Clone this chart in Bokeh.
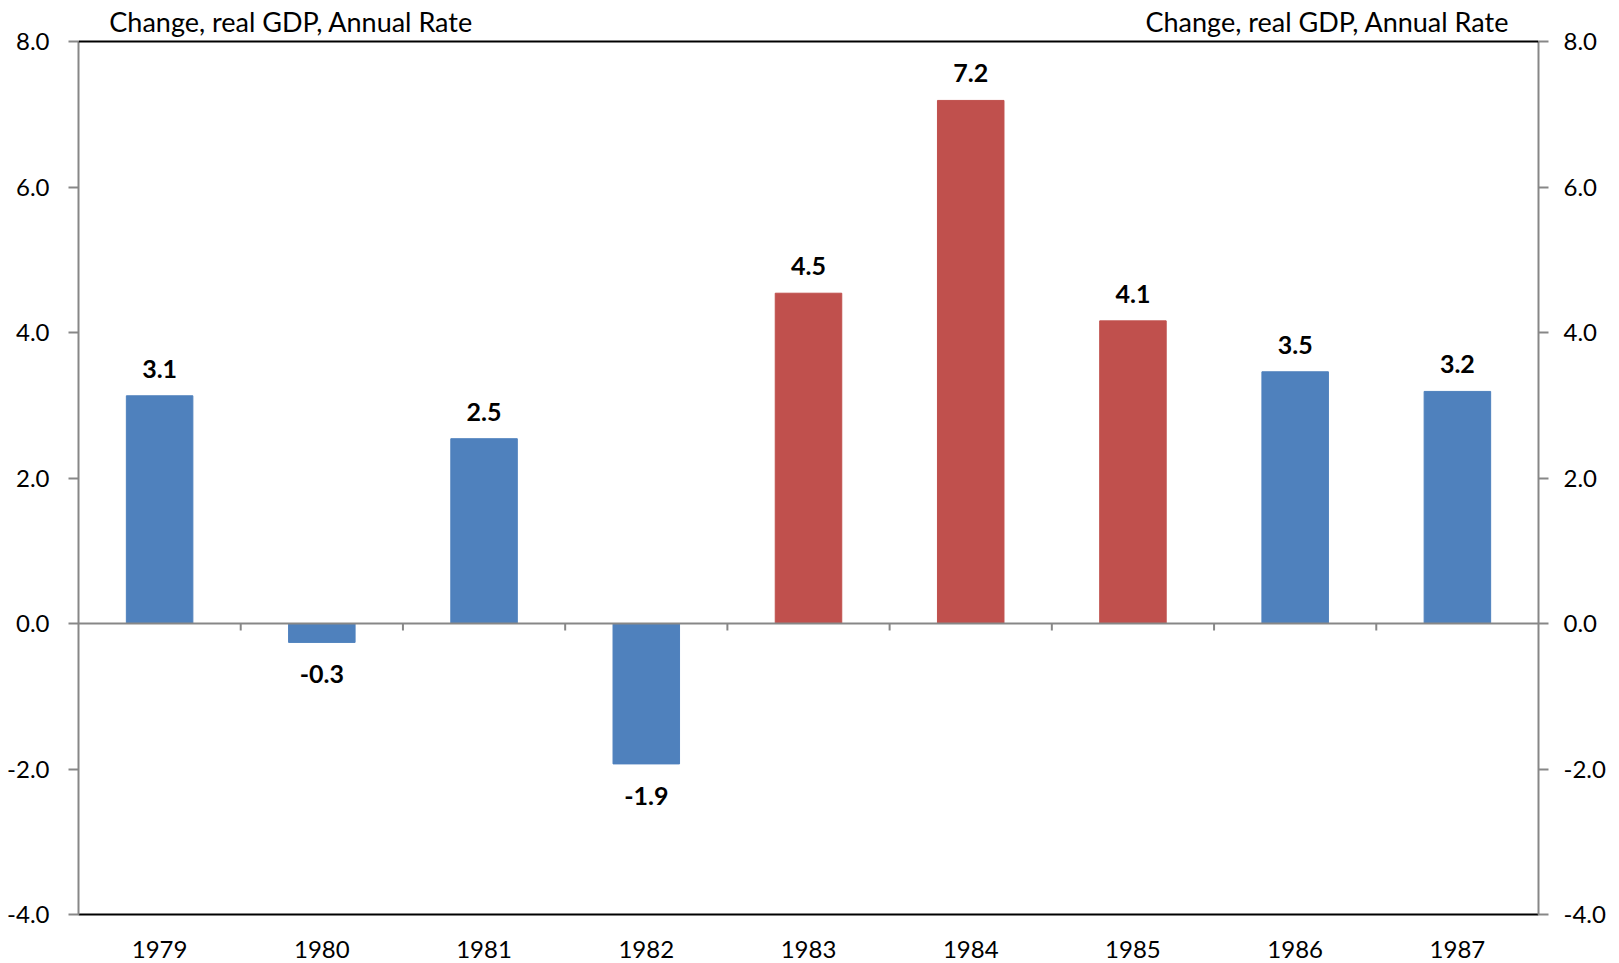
from bokeh.plotting import figure
from bokeh.models import Range1d, LinearAxis, FixedTicker, Span, ColumnDataSource
from bokeh.core.properties import value
from bokeh.embed import file_html
from bokeh.resources import INLINE

years = ["1979", "1980", "1981", "1982", "1983", "1984", "1985", "1986", "1987"]
gdp_change = [3.13, -0.26, 2.54, -1.93, 4.54, 7.19, 4.16, 3.46, 3.19]
bar_labels = ["3.1", "-0.3", "2.5", "-1.9", "4.5", "7.2", "4.1", "3.5", "3.2"]
bar_colors = ["#4F81BD", "#4F81BD", "#4F81BD", "#4F81BD", "#C0504D", "#C0504D", "#C0504D", "#4F81BD", "#4F81BD"]
y_ticks = [-4, -2, 0, 2, 4, 6, 8]
y_tick_labels = ["-4.0", "-2.0", "0.0", "2.0", "4.0", "6.0", "8.0"]
axis_title = "Change, real GDP, Annual Rate"

FONT = "Lato"
GRAY = "#878787"
n = len(years)
y_min, y_max = -4, 8

# layout in pixels
W, H = 1619, 963
left, right_edge, top8, bottom = 78, 1538, 41, 914
unit = (bottom - top8) / (y_max - y_min)
frame_top = 3
y_top = y_max + (top8 - frame_top) / unit

xs = [i + 0.5 for i in range(n)]
label_y = [v + 27 / unit if v >= 0 else v - 32 / unit for v in gdp_change]

src = ColumnDataSource(dict(x=xs, top=gdp_change, color=bar_colors, lab=bar_labels, ly=label_y))

p = figure(width=W, height=H, output_backend="svg", toolbar_location=None,
           x_range=Range1d(0, n), y_range=Range1d(y_min, y_top), y_axis_location=None,
           x_axis_location=None,
           min_border_left=left, min_border_right=W - right_edge,
           min_border_top=frame_top, min_border_bottom=H - bottom)
p.outline_line_color = None
p.grid.visible = False
p.background_fill_color = "white"
p.border_fill_color = "white"

p.vbar(x="x", top="top", bottom=0, width=0.41, color="color", source=src)

p.text(x="x", y="ly", text="lab", source=src, text_align="center", text_baseline="middle",
       text_font=value(FONT), text_font_style="bold", text_font_size="25px", text_color="black")

# zero line and category boundary ticks
p.add_layout(Span(location=0, dimension="width", line_color=GRAY, line_width=2))
bx = list(range(1, n))
p.segment(x0=bx, y0=[0] * len(bx), x1=bx, y1=[-7 / unit] * len(bx), line_color=GRAY, line_width=2)

# top black line at 8
p.add_layout(Span(location=y_max, dimension="width", line_color="black", line_width=2))

# titles above the plot area
title_y = y_max + 20 / unit
p.text(x=[0.19], y=[title_y], text=[axis_title], text_align="left",
       text_baseline="alphabetic", text_font=value(FONT), text_font_size="27px", text_color="black")
p.text(x=[8.82], y=[title_y], text=[axis_title], text_align="right",
       text_baseline="alphabetic", text_font=value(FONT), text_font_size="27px", text_color="black")


def yaxis(side, standoff):
    ax = LinearAxis(ticker=FixedTicker(ticks=y_ticks), bounds=(y_min, y_max),
                    major_label_overrides={t: l for t, l in zip(y_ticks, y_tick_labels)})
    ax.axis_line_color = GRAY
    ax.axis_line_width = 2
    ax.major_tick_line_color = GRAY
    ax.major_tick_line_width = 2
    ax.major_tick_out = 10
    ax.major_tick_in = 0
    ax.minor_tick_line_color = None
    ax.major_label_standoff = standoff
    ax.major_label_text_font = FONT
    ax.major_label_text_font_size = "24px"
    ax.major_label_text_color = "black"
    p.add_layout(ax, side)


yaxis("left", 19)
yaxis("right", 15)

xax = LinearAxis(ticker=FixedTicker(ticks=xs),
                 major_label_overrides={x: y for x, y in zip(xs, years)})
xax.axis_line_color = "black"
xax.axis_line_width = 2
xax.major_tick_line_color = None
xax.minor_tick_line_color = None
xax.major_label_standoff = 20
xax.major_label_text_font = FONT
xax.major_label_text_font_size = "24px"
xax.major_label_text_color = "black"
p.add_layout(xax, "below")

open("out.html", "w").write(file_html(p, INLINE))
